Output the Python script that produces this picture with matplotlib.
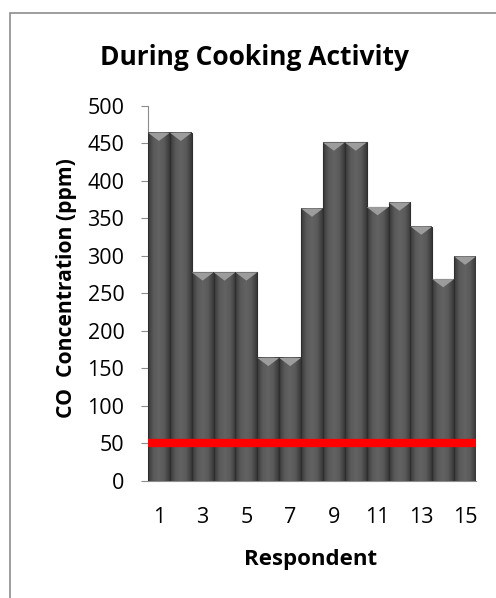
import numpy as np
import matplotlib
matplotlib.use('Agg')
import matplotlib.pyplot as plt
from matplotlib.patches import Polygon, Rectangle
from matplotlib.colors import LinearSegmentedColormap

# CO concentration per respondent during cooking (ppm)
respondents = np.arange(1, 16)
co_ppm = [464, 464, 278, 278, 278, 164, 164, 363, 451, 451, 365, 371, 339, 269, 299]
limit_ppm = 50
xtick_labels = ['1', '3', '5', '7', '9', '11', '13', '15']

plt.rcParams['font.family'] = ['Open Sans', 'DejaVu Sans']

fig = plt.figure(figsize=(4.96, 5.98), dpi=100)
ax = fig.add_axes([148 / 496, 1 - 481 / 598, 328 / 496, 375.3 / 598])

# outer chart frame
fig.patches.append(Rectangle((10 / 496, -0.05), 1.2, 1 - 13 / 598 + 0.05,
                             transform=fig.transFigure, fill=False,
                             edgecolor='#8c8c8c', lw=1.2))

# cylinder-like shading across each bar
shade = LinearSegmentedColormap.from_list(
    'bar', ['#383838', '#5a5a5a', '#626262', '#5a5a5a', '#383838'])
grad = np.linspace(0, 1, 64).reshape(1, -1)
for x, v in zip(respondents, co_ppm):
    ax.imshow(grad, extent=[x - 0.5, x + 0.5, 0, v], aspect='auto',
              cmap=shade, zorder=2)
    ax.add_patch(Rectangle((x - 0.5, 0), 1, v, fill=False,
                           edgecolor='#2e2e2e', lw=0.8, zorder=3))
    # bevelled top
    ax.add_patch(Polygon([(x - 0.5, v), (x + 0.5, v), (x, v - 11)],
                         closed=True, facecolor='#9c9c9c',
                         edgecolor='none', zorder=3))

ax.plot([0.5, 15.5], [limit_ppm, limit_ppm], color='#ff0000', lw=6,
        solid_capstyle='butt', zorder=4)

ax.set_xlim(0.5, 15.5)
ax.set_ylim(0, 500)
ax.set_yticks(np.arange(0, 501, 50))
ax.set_xticks(respondents[::2])
ax.set_xticklabels(xtick_labels)
ax.tick_params(axis='y', labelsize=15.5, length=5, color='#8c8c8c', pad=12)
ax.tick_params(axis='x', labelsize=15.5, length=0, pad=19)
for s in ['top', 'right']:
    ax.spines[s].set_visible(False)
ax.spines['left'].set_color('#8c8c8c')
ax.spines['bottom'].set_color('#8c8c8c')
ax.spines['left'].set_zorder(1)

fig.text(254 / 496, 1 - 65 / 598, 'During Cooking Activity', ha='center',
         va='baseline', fontsize=19, fontweight='bold')
fig.text(72 / 496, 1 - 288 / 598, 'CO  Concentration (ppm)', ha='center',
         va='baseline', rotation=90, rotation_mode='anchor',
         fontsize=15.2, fontweight='bold')
fig.text(311 / 496, 1 - 565 / 598, 'Respondent', ha='center', va='baseline',
         fontsize=16, fontweight='bold')

fig.savefig('out.png', dpi=100)
